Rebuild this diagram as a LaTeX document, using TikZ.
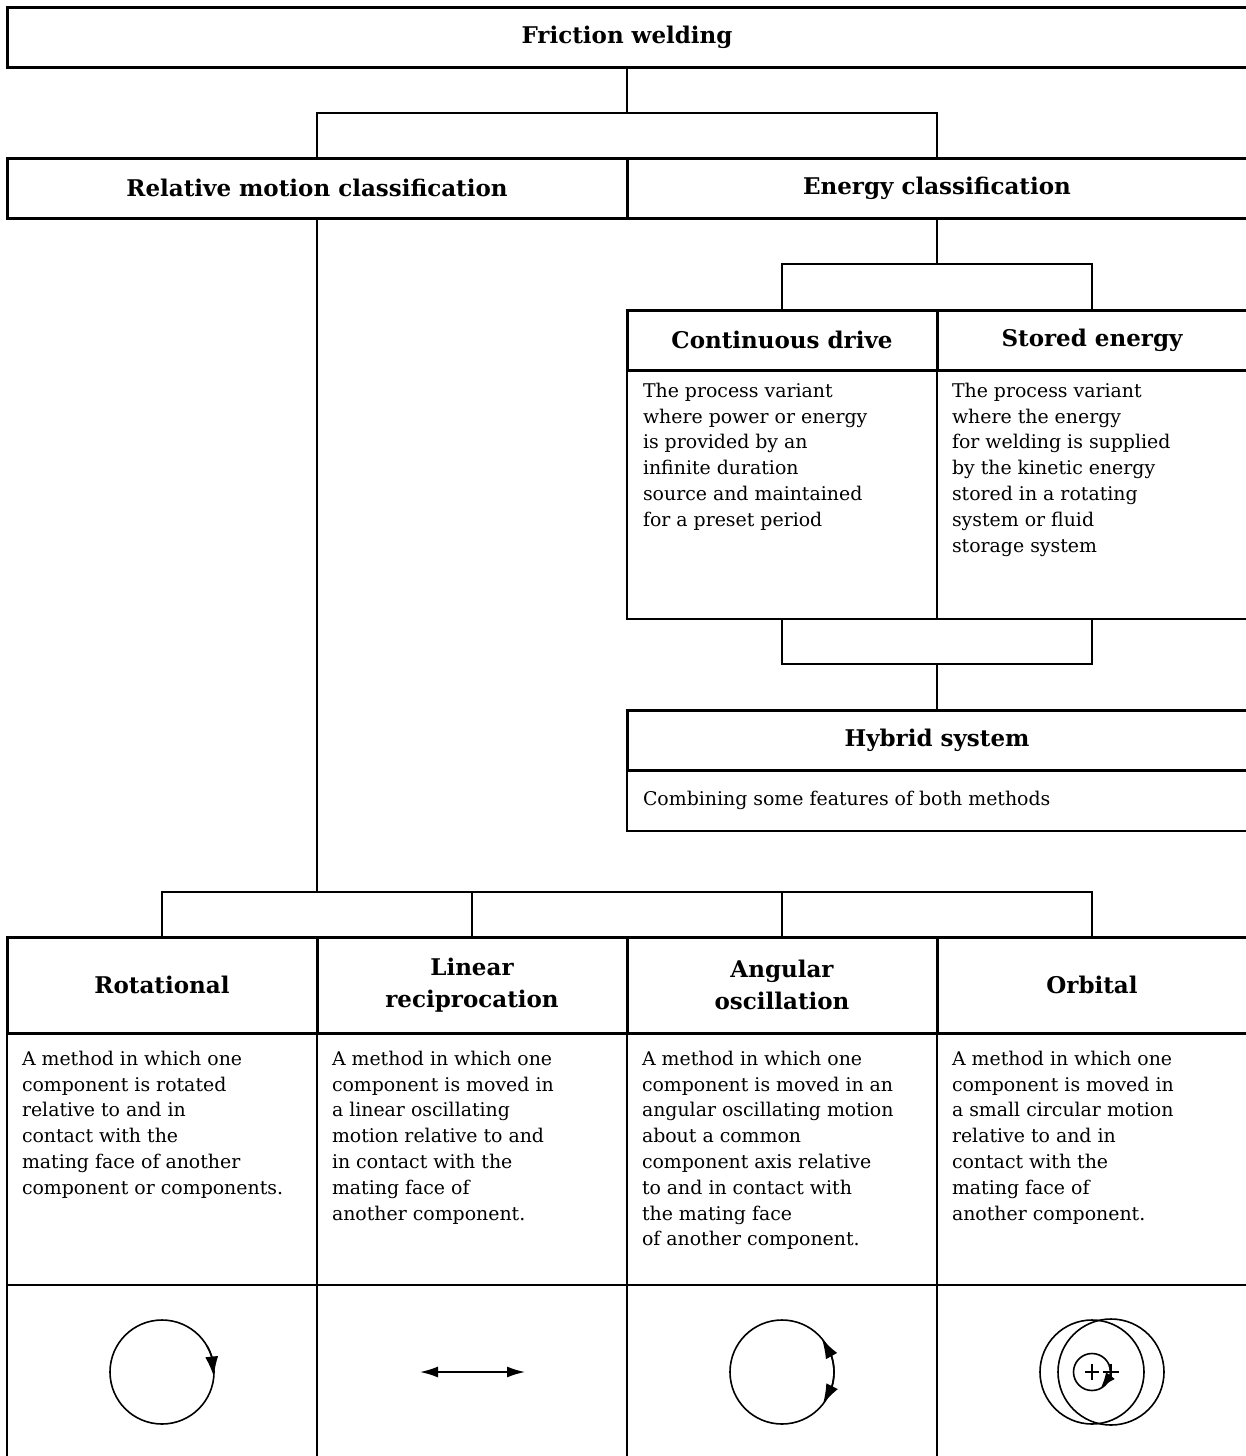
\documentclass[tikz,border=0pt]{standalone}
\usepackage{fontspec}
\setmainfont{DejaVu Serif}
\usetikzlibrary{arrows.meta,bending,calc}
\newcommand{\hdrfont}{\fontsize{23}{32}\selectfont\bfseries}
\newcommand{\bodyfont}{\fontsize{18.9}{25.8}\selectfont}
\tikzset{
  hdr/.style={rectangle, draw=black, line width=3.0pt, inner sep=0pt, outer sep=0pt, anchor=north west, font=\hdrfont, align=center, minimum height=60pt},
  bodybox/.style={rectangle, draw=black, line width=1.3pt, inner sep=0pt, outer sep=0pt, anchor=north west},
  bodytxt/.style={anchor=north west, inner sep=0pt, outer sep=0pt, align=left, font=\bodyfont},
  conn/.style={line width=1.3pt},
  icon/.style={line width=1.6pt},
  tip/.style={-{Latex[length=20pt,width=13pt,flex]}},
}
\begin{document}
\begin{tikzpicture}[x=1pt,y=-1pt]
\useasboundingbox[fill=white] (0,0) rectangle (1245,1456);
% ---- top levels
\node[hdr, minimum width=1240pt] (fw) at (7,7) {Friction welding};
\node[hdr, minimum width=620pt] (rm) at (7,158) {Relative motion classification};
\node[hdr, minimum width=620pt] (ec) at (627,158) {Energy classification};
% ---- energy branch
\node[bodybox, minimum width=310pt, minimum height=249pt] (cdb) at (627,370) {};
\node[bodybox, minimum width=310pt, minimum height=249pt] (seb) at (937,370) {};
\node[hdr, minimum width=310pt] (cd) at (627,310) {Continuous drive};
\node[hdr, minimum width=310pt] (se) at (937,310) {Stored energy};
\node[bodytxt] (cdt) at (643,383) {The process variant\\where power or energy\\is provided by an\\infinite duration\\source and maintained\\for a preset period};
\node[bodytxt] (set) at (952,383) {The process variant\\where the energy\\for welding is supplied\\by the kinetic energy\\stored in a rotating\\system or fluid\\storage system};
\node[bodybox, minimum width=620pt, minimum height=61pt] (hyb) at (627,770) {};
\node[hdr, minimum width=620pt] (hy) at (627,710) {Hybrid system};
\node[bodytxt] (hyt) at (643,791) {Combining some features of both methods};
% ---- motion branch
\foreach \n/\x in {rot/7, lin/317, ang/627, orb/937}{
  \node[bodybox, minimum width=310pt, minimum height=252pt] (\n b) at (\x,1033) {};
  \node[bodybox, minimum width=310pt, minimum height=200pt] (\n i) at (\x,1285) {};
}
\node[hdr, minimum width=310pt, minimum height=96pt] (rot) at (7,937) {Rotational};
\node[hdr, minimum width=310pt, minimum height=96pt] (lin) at (317,937) {Linear\\reciprocation};
\node[hdr, minimum width=310pt, minimum height=96pt] (ang) at (627,937) {Angular\\oscillation};
\node[hdr, minimum width=310pt, minimum height=96pt] (orb) at (937,937) {Orbital};
\node[bodytxt] (rott) at (22,1051) {A method in which one\\component is rotated\\relative to and in\\contact with the\\mating face of another\\component or components.};
\node[bodytxt] (lint) at (332,1051) {A method in which one\\component is moved in\\a linear oscillating\\motion relative to and\\in contact with the\\mating face of\\another component.};
\node[bodytxt] (angt) at (642,1051) {A method in which one\\component is moved in an\\angular oscillating motion\\about a common\\component axis relative\\to and in contact with\\the mating face\\of another component.};
\node[bodytxt] (orbt) at (952,1051) {A method in which one\\component is moved in\\a small circular motion\\relative to and in\\contact with the\\mating face of\\another component.};
% ---- connectors
\coordinate (j1) at (627,113);
\coordinate (j2) at (937,264);
\coordinate (j3) at (937,664);
\coordinate (j4) at (317,892);
\draw[conn] (fw.south) -- (j1);
\draw[conn] (rm.north) |- (j1) -| (ec.north);
\draw[conn] (ec.south) -- (j2);
\draw[conn] (cd.north) |- (j2) -| (se.north);
\draw[conn] (cdb.south) |- (j3) -| (seb.south);
\draw[conn] (j3) -- (hy.north);
\draw[conn] (rm.south) -- (j4);
\draw[conn] (rot.north) |- (j4) -| (orb.north);
\draw[conn] (lin.north) -- (lin.north |- j4);
\draw[conn] (ang.north) -- (ang.north |- j4);
% ---- icons
\coordinate (c1) at (162,1372);
\draw[icon] (c1) circle[radius=52];
\draw[icon, tip] ($(c1)+(-30:52)$) arc[start angle=-30, end angle=5, radius=52];
\coordinate (l1) at (420,1372);
\coordinate (l2) at (525,1372);
\draw[icon, {Latex[length=18pt,width=11pt]}-{Latex[length=18pt,width=11pt]}] (l1) -- (l2);
\coordinate (c3) at (782,1372);
\draw[icon] (c3) circle[radius=52];
\draw[icon, tip] ($(c3)+(0:52)$) arc[start angle=0, end angle=-40, radius=52];
\draw[icon, tip] ($(c3)+(0:52)$) arc[start angle=0, end angle=38, radius=52];
\coordinate (c4) at (1092,1372);
\coordinate (c5) at (1111,1372);
\draw[icon] (c4) circle[radius=52];
\draw[icon] (c5) circle[radius=53];
\draw[icon] (c4) circle[radius=18.5];
\draw[icon, -{Latex[length=16pt,width=11pt,flex]}] ($(c4)+(-20:18.5)$) arc[start angle=-20, end angle=62, radius=18.5];
\draw[icon] ($(c4)+(-7,0)$) -- ($(c4)+(7,0)$) ($(c4)+(0,-8)$) -- ($(c4)+(0,8)$);
\draw[icon] ($(c5)+(-8,0)$) -- ($(c5)+(8,0)$) ($(c5)+(0,-8)$) -- ($(c5)+(0,8)$);
\end{tikzpicture}
\end{document}
